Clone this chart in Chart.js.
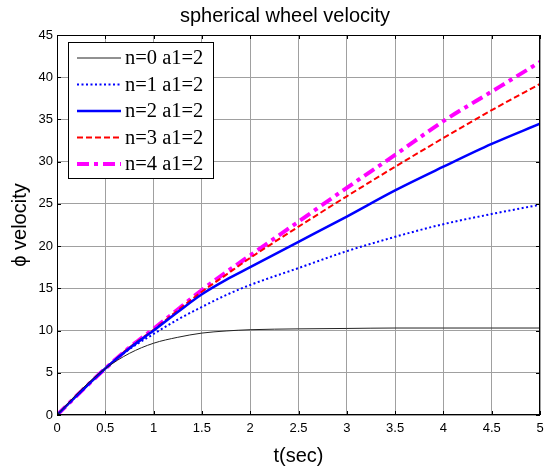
<!DOCTYPE html>
<html>
<head>
<meta charset="utf-8">
<script src="https://cdn.jsdelivr.net/npm/chart.js@4"></script>
<style>
  html, body { margin: 0; padding: 0; background: #fff; }
  #wrap { width: 544px; height: 468px; }
</style>
</head>
<body>
<div id="wrap"><canvas id="velocityPlot"></canvas></div>
<script>
'use strict';

// time samples (sec)
const timeVals = [0, 0.25, 0.5, 0.75, 1, 1.25, 1.5, 1.75, 2, 2.5, 3, 3.5, 4, 4.5, 5];

// velocity per run
const n0Vals = [0, 3.0, 5.5, 7.3, 8.5, 9.2, 9.7, 9.95, 10.1, 10.2, 10.25, 10.3, 10.3, 10.3, 10.3];
const n1Vals = [0, 2.8, 5.5, 7.8, 9.6, 11.3, 12.8, 14.2, 15.4, 17.4, 19.4, 21.1, 22.6, 23.8, 24.9];
const n2Vals = [0, 2.8, 5.5, 7.9, 10.0, 12.2, 14.3, 16.0, 17.5, 20.5, 23.5, 26.6, 29.4, 32.1, 34.5];
const n3Vals = [0, 2.8, 5.5, 8.0, 10.1, 12.4, 14.6, 16.6, 18.6, 22.3, 25.9, 29.4, 32.8, 36.1, 39.2];
const n4Vals = [0, 2.8, 5.5, 8.0, 10.2, 12.5, 14.8, 16.9, 18.9, 22.9, 26.9, 30.8, 34.8, 38.3, 41.8];

const seriesLabels = ["n=0 a1=2", "n=1 a1=2", "n=2 a1=2", "n=3 a1=2", "n=4 a1=2"];
const chartTitle = "spherical wheel velocity";

const toPoints = (vals) => vals.map((v, i) => ({ x: timeVals[i], y: v }));

const sansFont = "'Liberation Sans', Arial, sans-serif";

// title, box around plot + legend drawn inside the axes
const framePlugin = {
    id: "frame",
    afterDatasetsDraw(chart) {
        const { ctx, chartArea: a } = chart;
        ctx.save();

        ctx.fillStyle = "#000";
        ctx.font = "20px " + sansFont;
        ctx.textAlign = "center";
        ctx.textBaseline = "middle";
        ctx.fillText(chartTitle, 285, 16);
        ctx.textAlign = "left";

        ctx.strokeStyle = "#000";
        ctx.lineWidth = 1;
        ctx.strokeRect(a.left + 0.5, a.top + 0.5, a.right - a.left - 1, a.bottom - a.top - 1);

        // small inner tick marks on all four sides
        const xs = chart.scales.x, ys = chart.scales.y;
        ctx.beginPath();
        xs.ticks.forEach(t => {
            const px = Math.round(xs.getPixelForValue(t.value)) + 0.5;
            ctx.moveTo(px, a.top); ctx.lineTo(px, a.top + 4);
            ctx.moveTo(px, a.bottom); ctx.lineTo(px, a.bottom - 4);
        });
        ys.ticks.forEach(t => {
            const py = Math.round(ys.getPixelForValue(t.value)) + 0.5;
            ctx.moveTo(a.left, py); ctx.lineTo(a.left + 4, py);
            ctx.moveTo(a.right, py); ctx.lineTo(a.right - 4, py);
        });
        ctx.stroke();

        // legend
        const lx = 68, ly = 42, lw = 145, lh = 136;
        ctx.fillStyle = "#fff";
        ctx.fillRect(lx, ly, lw, lh);
        ctx.strokeRect(lx + 0.5, ly + 0.5, lw, lh);
        ctx.font = "20.5px 'Liberation Serif', 'Times New Roman', serif";
        ctx.textBaseline = "middle";
        chart.data.datasets.forEach((ds, i) => {
            const y = ly + 16 + i * 26.5;
            ctx.beginPath();
            ctx.strokeStyle = ds.borderColor;
            ctx.lineWidth = ds.borderWidth;
            ctx.setLineDash(ds.borderDash || []);
            ctx.moveTo(lx + 9, y);
            ctx.lineTo(lx + 53, y);
            ctx.stroke();
            ctx.setLineDash([]);
            ctx.fillStyle = "#000";
            ctx.fillText(ds.label, lx + 57, y + 1);
        });
        ctx.restore();
    }
};

const ctx = document.getElementById("velocityPlot").getContext("2d");

new Chart(ctx, {
    type: "line",
    data: {
        datasets: [
            { label: seriesLabels[0], data: toPoints(n0Vals), borderColor: "#222", borderWidth: 1 },
            { label: seriesLabels[1], data: toPoints(n1Vals), borderColor: "#0000ff", borderWidth: 2, borderDash: [2, 2.5] },
            { label: seriesLabels[2], data: toPoints(n2Vals), borderColor: "#0000ff", borderWidth: 2.5 },
            { label: seriesLabels[3], data: toPoints(n3Vals), borderColor: "#ff0000", borderWidth: 2, borderDash: [6, 3] },
            { label: seriesLabels[4], data: toPoints(n4Vals), borderColor: "#ff00ff", borderWidth: 4, borderDash: [12, 5, 4, 5] },
        ],
    },
    options: {
        responsive: true,
        maintainAspectRatio: false,
        animation: false,
        layout: { padding: { top: 35, right: 4, left: 0, bottom: 0 } },
        elements: {
            point: { radius: 0 },
            line: { tension: 0.4, cubicInterpolationMode: "monotone", fill: false },
        },
        scales: {
            x: {
                type: "linear",
                min: 0,
                max: 5,
                ticks: {
                    stepSize: 0.5,
                    color: "#000",
                    font: { family: sansFont, size: 13 },
                    padding: 6,
                    maxRotation: 0,
                    callback: (v) => String(v),
                },
                grid: { color: "#a0a0a0", tickLength: 0, drawTicks: false },
                border: { display: false },
                title: {
                    display: true,
                    text: "t(sec)",
                    color: "#000",
                    font: { family: sansFont, size: 20 },
                    padding: { top: 0, bottom: 0 },
                },
                afterFit: (scale) => {
                    scale.height = 53;
                    scale.paddingLeft = 0;
                    scale.paddingRight = 0;
                },
            },
            y: {
                min: 0,
                max: 45,
                ticks: {
                    stepSize: 5,
                    color: "#000",
                    font: { family: sansFont, size: 13 },
                    padding: 4,
                },
                grid: { color: "#a0a0a0", tickLength: 0, drawTicks: false },
                border: { display: false },
                title: {
                    display: true,
                    text: "ϕ velocity",
                    color: "#000",
                    font: { family: sansFont, size: 20 },
                    padding: { top: 8, bottom: 0 },
                },
                afterFit: (scale) => {
                    scale.width = 57;
                    scale.paddingTop = 0;
                    scale.paddingBottom = 0;
                },
            },
        },
        plugins: {
            legend: { display: false },
            tooltip: { enabled: false },
            title: { display: false },
        },
    },
    plugins: [framePlugin],
});
</script>
</body>
</html>
